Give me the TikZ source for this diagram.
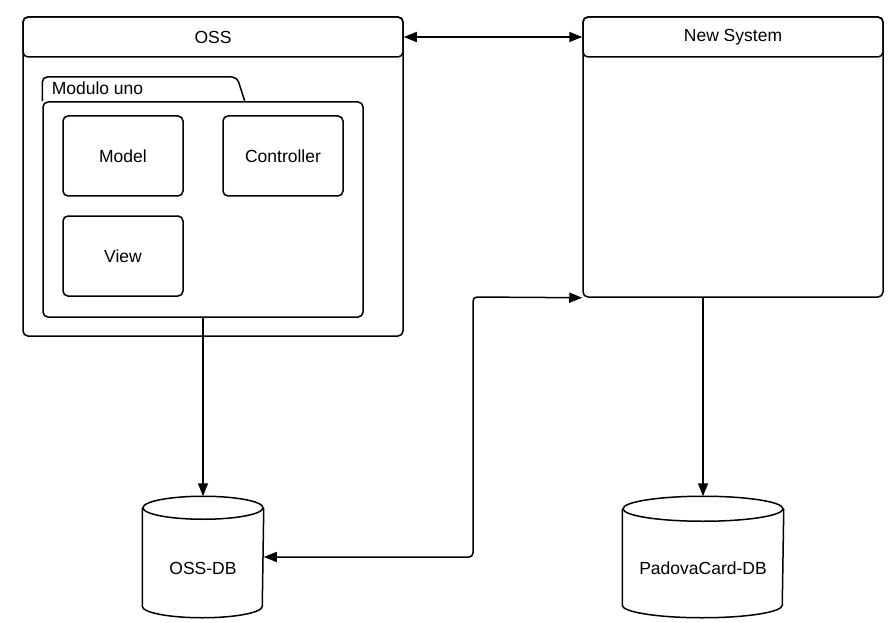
\documentclass[tikz,border=0pt]{standalone}
\usepackage{fontspec}
\setmainfont{Liberation Sans}
\usetikzlibrary{positioning, arrows.meta, calc}

\begin{document}
\begin{tikzpicture}[x=1pt, y=-1pt, line width=1.5pt,
  box/.style={draw, rounded corners=5pt, inner sep=0pt},
  db/.style={minimum height=120pt, inner sep=0pt, text height=34.5pt, text depth=0pt},
  arr/.style={-{Triangle[length=13pt,width=10pt]}},
  dbl/.style={{Triangle[length=13pt,width=10pt]}-{Triangle[length=13pt,width=10pt]}},
  every node/.style={font=\fontsize{17.5}{21}\selectfont}]
\useasboundingbox (0,0) rectangle (892,623);

% the two systems
\node[box, minimum width=380pt, minimum height=319pt] (oss) at (213,176.5) {};
\node[box, minimum width=380pt, minimum height=40pt, anchor=north] (osshead) at (oss.north) {OSS};
\node[box, minimum width=300pt, minimum height=280pt] (ns) at (733,157) {};
\node[box, minimum width=300pt, minimum height=40pt, anchor=north] (nshead) at (ns.north) {New System};

% package inside OSS
\node[box, minimum width=320pt, minimum height=215pt] (modulo) at (203,209.5) {};
\coordinate (tab) at (237,77);
\draw[rounded corners=5pt] (modulo.north west) |- (tab) -- ++(8,25);
\node[anchor=west, inner sep=0pt] (modlabel) at (51,88) {Modulo uno};

\node[box, minimum width=120pt, minimum height=80pt] (model) at (123,156) {Model};
\node[box, minimum width=120pt, minimum height=80pt] (ctrl) at (283,156) {Controller};
\node[box, minimum width=120pt, minimum height=80pt] (view) at (123,256) {View};

% databases
\node[db, minimum width=120pt] (ossdb) at (203,557) {OSS-DB};
\node[db, minimum width=160pt] (pcdb) at (703,557) {PadovaCard-DB};
\foreach \n/\rx/\ry in {ossdb/60/11.5, pcdb/80/12.5}{
  \draw ($(\n.north)+(0,\ry)$) ellipse [x radius=\rx, y radius=\ry];
  \draw ($(\n.north west)+(0,\ry)$) -- ($(\n.south west)+(0,-\ry)$)
    arc [start angle=180, end angle=0, x radius=\rx, y radius=\ry]
    -- ($(\n.north east)+(0,\ry)$);
}

% connectors
\draw[dbl] (osshead.east) -- (nshead.west);
\draw[arr] (modulo.south) -- (ossdb.north);
\draw[arr] (ns.south -| pcdb.north) -- (pcdb.north);
\coordinate (jog) at (473,297);
\draw[dbl, rounded corners=4pt] (ossdb.east) -| (jog) -- (ns.south west);
\end{tikzpicture}
\end{document}
